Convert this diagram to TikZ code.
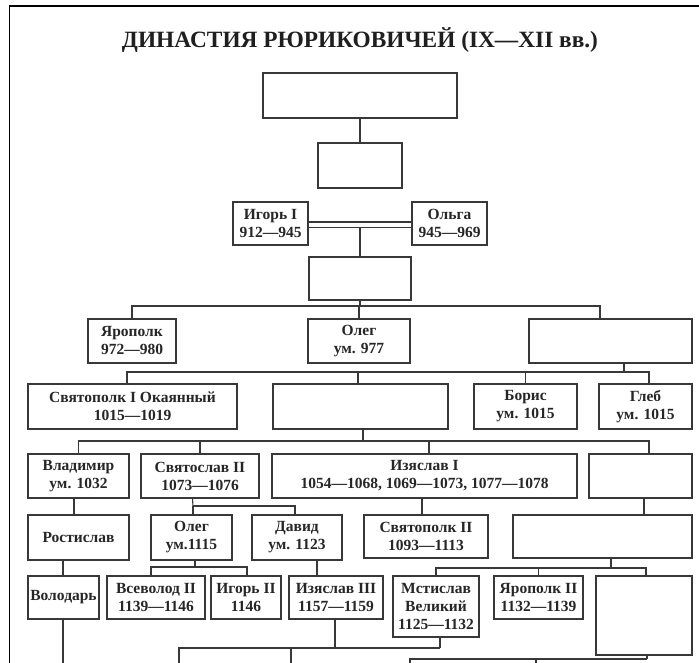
\documentclass[tikz,border=0pt]{standalone}
\usepackage{fontspec}
\usepackage{graphicx}
\setmainfont{Liberation Serif}
\tikzset{
  ln/.style={draw=black!78, line width=1.1pt},
  bx/.style={ln, rectangle, inner sep=0pt, align=center, text=black!85,
    font=\bfseries\fontsize{15.5}{18}\selectfont},
}
\newcommand{\bxnode}[7]{% name, x1, y1, x2, y2, text
  \node[bx, minimum width={(#4)-(#2)}, minimum height={(#5)-(#3)}] (#1) at ({((#2)+(#4))/2},{((#3)+(#5))/2}) {#6#7};}
\begin{document}
\begin{tikzpicture}[x=1pt, y=-1pt]
\useasboundingbox (0,0) rectangle (699,663);
\fill[white] (0,0) rectangle (699,663);
% frame
\draw[line width=1.6pt] (9.5,663) -- (9.5,6) -- (699,6);
% title
\node[anchor=base, inner sep=0pt, text=black!88] (title) at (360,48)
  {\resizebox{476pt}{!}{\bfseries\fontsize{22}{22}\selectfont ДИНАСТИЯ РЮРИКОВИЧЕЙ (IX—XII вв.)}};
% boxes
\bxnode{top}{263}{73}{457}{118}{}{}
\bxnode{b2}{318}{143}{402}{188}{}{}
\bxnode{igor}{233}{202}{308}{245}{Игорь I\\912—945}{}
\bxnode{olga}{412}{202}{487}{245}{Ольга\\945—969}{}
\bxnode{b3}{309}{257}{411}{300}{}{}
\bxnode{yaropolk}{88}{319}{176}{363}{Ярополк\\972—980}{}
\bxnode{oleg}{308}{319}{410}{363}{Олег\\ум. 977}{}
\bxnode{vlad}{529}{319}{692}{363}{}{}
\bxnode{svp}{28}{384}{237}{429}{Святополк I Окаянный\\1015—1019}{}
\bxnode{yar}{273}{384}{448}{429}{}{}
\bxnode{boris}{474}{384}{577}{429}{Борис\\ум. 1015}{}
\bxnode{gleb}{599}{384}{692}{429}{Глеб\\ум. 1015}{}
\bxnode{vladimir}{28}{454}{129}{498}{Владимир\\ум. 1032}{}
\bxnode{svt}{141}{454}{259}{498}{Святослав II\\1073—1076}{}
\bxnode{izya}{272}{454}{577}{498}{Изяслав I\\1054—1068, 1069—1073, 1077—1078}{}
\bxnode{vsev}{589}{454}{692}{498}{}{}
\bxnode{rost}{28}{515}{129}{560}{Ростислав}{}
\bxnode{olegb}{151}{515}{232}{560}{Олег\\ум.1115}{}
\bxnode{david}{252}{515}{342}{560}{Давид\\ум. 1123}{}
\bxnode{svpb}{364}{515}{488}{558}{Святополк II\\1093—1113}{}
\bxnode{mono}{513}{515}{692}{558}{}{}
\bxnode{volodar}{28}{576}{99}{619}{Володарь}{}
\bxnode{vsevb}{107}{576}{205}{619}{Всеволод II\\1139—1146}{}
\bxnode{igorb}{211}{576}{281}{619}{Игорь II\\1146}{}
\bxnode{izyab}{289}{576}{383}{619}{Изяслав III\\1157—1159}{}
\bxnode{mst}{393}{576}{479}{637}{Мстислав\\Великий\\1125—1132}{}
\bxnode{yarpb}{494}{576}{583}{619}{Ярополк II\\1132—1139}{}
\bxnode{yuri}{596}{576}{692}{655}{}{}
% connectors
\draw[ln] (top.south) -- (b2.north);
\draw[ln] ([yshift=1.5pt]igor.east) -- ([yshift=1.5pt]olga.west);
\draw[ln] ([yshift=-4pt]igor.east) -- ([yshift=-4pt]olga.west);
\coordinate (m1) at (360,228);
\draw[ln] (m1) -- (b3.north);
% generation of b3
\coordinate (t1) at (360,306);
\draw[ln] (b3.south) -- (t1);
\draw[ln] (yaropolk.north) |- (t1);
\draw[ln] (oleg.north) -- (oleg.north |- t1);
\draw[ln] ([xshift=-10.5pt]vlad.north) |- (t1);
% generation of vlad
\coordinate (t2) at (624,372);
\draw[ln] ([xshift=13.5pt]vlad.south) -- (t2);
\draw[ln] ([xshift=-5.5pt]svp.north) |- (t2);
\draw[ln] ([xshift=3.5pt]gleb.north) |- (t2);
\draw[ln] ([xshift=-2.5pt]yar.north) -- ([xshift=-2.5pt]yar.north |- t2);
\draw[ln] (boris.north) -- (boris.north |- t2);
% generation of yar
\coordinate (t3) at (363,441);
\draw[ln] ([xshift=2.5pt]yar.south) -- (t3);
\draw[ln] (vladimir.north) |- (t3);
\draw[ln] ([xshift=8.5pt]vsev.north) |- (t3);
\draw[ln] (svt.north) -- (svt.north |- t3);
\draw[ln] ([xshift=4.5pt]izya.north) -- ([xshift=4.5pt]izya.north |- t3);
% next
\draw[ln] ([xshift=-4.5pt]vladimir.south) -- ([xshift=-4.5pt]rost.north);
\coordinate (t4) at (193,506);
\draw[ln] ([xshift=-7.5pt]svt.south) -- (t4);
\draw[ln] ([xshift=1.5pt]olegb.north) -- (t4);
\draw[ln] ([xshift=-2pt]david.north) |- (t4);
\draw[ln] ([xshift=-2.5pt]izya.south) -- ([xshift=-4pt]svpb.north);
\draw[ln] ([xshift=3.5pt]vsev.south) -- ([xshift=41.5pt]mono.north);
\draw[ln] ([xshift=-15.5pt]rost.south) -- ([xshift=-0.5pt]volodar.north);
\coordinate (e1) at (63,663);
\draw[ln] ([xshift=-0.5pt]volodar.south) -- (e1);
\coordinate (t5) at (195,567);
\draw[ln] ([xshift=3.5pt]olegb.south) -- (t5);
\draw[ln] ([xshift=-5pt]vsevb.north) |- (t5);
\draw[ln] ([xshift=1pt]igorb.north) |- (t5);
\draw[ln] ([xshift=20pt]david.south) -- ([xshift=-19pt]izyab.north);
\coordinate (t6) at (611,568);
\draw[ln] ([xshift=8.5pt]mono.south) -- (t6);
\draw[ln] (mst.north) |- (t6);
\draw[ln] ([xshift=2pt]yuri.north) |- (t6);
\draw[ln] (yarpb.north) -- (yarpb.north |- t6);
% bottom (cut off)
\coordinate (t7) at (440,648);
\draw[ln] ([xshift=4pt]mst.south) -- (t7);
\coordinate (e2) at (179,663);
\coordinate (e3) at (291,663);
\draw[ln] (e2) |- (t7);
\draw[ln] (e3) -- (e3 |- t7);
\draw[ln] ([xshift=-1pt]izyab.south) -- ([xshift=-1pt]izyab.south |- t7);
\coordinate (t8) at (647,659);
\coordinate (e4) at (410,663);
\coordinate (e5) at (536,663);
\draw[ln] ([xshift=3pt]yuri.south) -- (t8);
\draw[ln] (e4) |- (t8);
\draw[ln] (e5) -- (e5 |- t8);
\end{tikzpicture}
\end{document}
